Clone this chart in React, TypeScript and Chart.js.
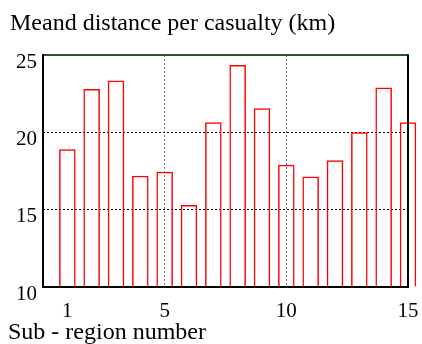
import React, { useEffect, useRef } from "react";
import { Chart, registerables } from "chart.js";

Chart.register(...registerables);

const regions = [1, 2, 3, 4, 5, 6, 7, 8, 9, 10, 11, 12, 13, 14, 15];
const distances = [18.9, 22.8, 23.35, 17.2, 17.45, 15.3, 20.65, 24.35, 21.55, 17.9, 17.15, 18.2, 20.0, 22.9, 20.65];
const xTickValues = [1, 5, 10, 15];
const yTickValues = [10, 15, 20, 25];
const titleText = "Meand distance per casualty (km)";
const xTitleText = "Sub - region number";

const FONT = "Liberation Serif, Times New Roman, serif";

const framePlugin = {
  id: "framePlugin",
  afterDraw(chart: any) {
    const { ctx, chartArea } = chart;
    const { left, right, top, bottom } = chartArea;
    ctx.save();
    ctx.lineWidth = 2;
    ctx.strokeStyle = "#1f5a1f";
    ctx.beginPath();
    ctx.moveTo(left, top);
    ctx.lineTo(right + 1, top);
    ctx.stroke();
    ctx.strokeStyle = "#000000";
    ctx.beginPath();
    ctx.moveTo(right, top);
    ctx.lineTo(right, bottom);
    ctx.stroke();
    ctx.beginPath();
    ctx.moveTo(left, top - 1);
    ctx.lineTo(left, bottom);
    ctx.lineTo(right + 1, bottom);
    ctx.stroke();
    ctx.fillStyle = "#000";
    ctx.textBaseline = "alphabetic";
    ctx.textAlign = "left";
    ctx.font = `24px ${FONT}`;
    ctx.fillText(titleText, 10, 30);
    ctx.font = `24px ${FONT}`;
    ctx.fillText(xTitleText, 8, 339);
    ctx.restore();
  },
};

export default function App() {
  const ref = useRef<HTMLCanvasElement>(null);
  useEffect(() => {
    if (!ref.current) return;
    const chart = new Chart(ref.current, {
      type: "bar",
      data: {
        datasets: [
          {
            data: regions.map((r, i) => ({ x: r, y: distances[i] })),
            borderColor: "#ff0000",
            backgroundColor: "rgba(255,255,255,0)",
            borderWidth: 1.5,
            barPercentage: 0.68,
            categoryPercentage: 1,
            base: 10,
            clip: false,
          } as any,
        ],
      },
      options: {
        animation: false,
        responsive: true,
        maintainAspectRatio: false,
        layout: { padding: { top: 55, left: 0, right: 14, bottom: 0 } },
        plugins: {
          legend: { display: false },
          tooltip: { enabled: false },
          title: { display: false },
        },
        scales: {
          x: {
            type: "linear",
            min: 0,
            max: 15,
            offset: false,
            afterBuildTicks: (s: any) => {
              s.ticks = xTickValues.map((v) => ({ value: v }));
            },
            afterFit: (s: any) => {
              s.height = 57;
              s.paddingLeft = 0;
              s.paddingRight = 0;
            },
            grid: {
              offset: false,
              drawTicks: false,
              color: (c: any) =>
                c.tick && (c.tick.value === 5 || c.tick.value === 10) ? "#777777" : "rgba(0,0,0,0)",
              lineWidth: 1,
            },
            border: { display: false, dash: [2, 2] },
            ticks: {
              autoSkip: false,
              maxRotation: 0,
              padding: 12,
              color: "#000",
              font: { family: FONT, size: 21 },
            },
          },
          y: {
            min: 10,
            max: 25,
            afterBuildTicks: (s: any) => {
              s.ticks = yTickValues.map((v) => ({ value: v }));
            },
            afterFit: (s: any) => {
              s.width = 43;
              s.paddingTop = 0;
              s.paddingBottom = 0;
            },
            grid: {
              drawTicks: false,
              color: (c: any) =>
                c.tick && (c.tick.value === 15 || c.tick.value === 20) ? "#000000" : "rgba(0,0,0,0)",
              lineWidth: 1,
            },
            border: { display: false, dash: [2, 2] },
            ticks: {
              padding: 6,
              labelOffset: 7,
              color: "#000",
              font: { family: FONT, size: 21 },
            },
          },
        },
      },
      plugins: [framePlugin],
    });
    return () => chart.destroy();
  }, []);
  return (
    <div style={{ position: "fixed", left: 0, top: 0, width: 422, height: 344, background: "#fff" }}>
      <canvas ref={ref} />
    </div>
  );
}
